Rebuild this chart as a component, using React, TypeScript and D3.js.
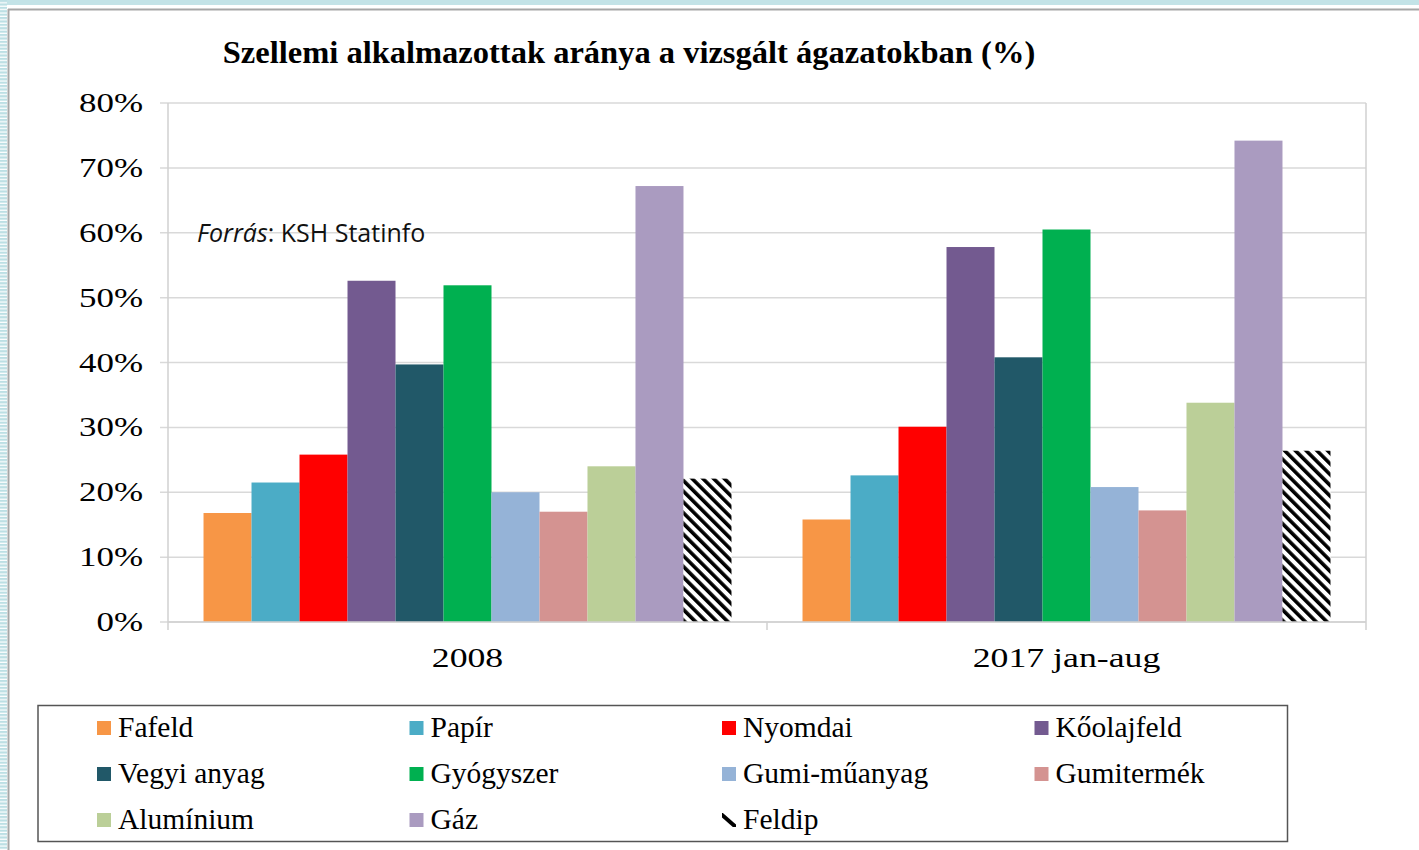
import React from "react";
import * as d3 from "d3";

const years = ["2008", "2017 jan-aug"];
const sectors = [
  "Fafeld",
  "Papír",
  "Nyomdai",
  "Kőolajfeld",
  "Vegyi anyag",
  "Gyógyszer",
  "Gumi-műanyag",
  "Gumitermék",
  "Alumínium",
  "Gáz",
  "Feldip",
];
const colors = [
  "#F79646",
  "#4BACC6",
  "#FF0000",
  "#735A90",
  "#215868",
  "#00B050",
  "#95B3D7",
  "#D49391",
  "#BBCF98",
  "#AA9BC0",
  "url(#hatch)",
];
const values2008 = [16.8, 21.5, 25.8, 52.6, 39.7, 51.9, 20.0, 17.0, 24.0, 67.2, 22.1];
const values2017 = [15.8, 22.6, 30.1, 57.8, 40.8, 60.5, 20.8, 17.2, 33.8, 74.2, 26.4];
const yTicks = [0, 10, 20, 30, 40, 50, 60, 70, 80];

const serif = "'Liberation Serif', 'Times New Roman', serif";

const App: React.FC = () => {
  const width = 1419;
  const height = 850;
  const left = 168;
  const right = 1366;
  const top = 103;
  const bottom = 622;

  const y = d3.scaleLinear().domain([0, 80]).range([bottom, top]);
  const x0 = d3.scaleBand<string>().domain(years).range([left, right]).paddingInner(0);
  const x1 = d3
    .scaleBand<string>()
    .domain(sectors)
    .range([0, x0.bandwidth()])
    .paddingInner(0)
    .paddingOuter(0.74);

  const series = [values2008, values2017];

  // legend layout
  const legendCols = 4;
  const legendX = (i: number) => 97 + (i % legendCols) * 312.5;
  const legendY = (i: number) => 721 + Math.floor(i / legendCols) * 46;

  return (
    <svg
      width={width}
      height={height}
      style={{ position: "absolute", left: 0, top: 0, background: "#fff" }}
    >
      <defs>
        <pattern
          id="hatch"
          patternUnits="userSpaceOnUse"
          width={7.6}
          height={7.6}
          patternTransform="rotate(-45)"
        >
          <rect width={7.6} height={7.6} fill="#fff" />
          <rect width={3.6} height={7.6} fill="#000" />
        </pattern>
        <pattern id="stripes" patternUnits="userSpaceOnUse" width={8} height={3.4}>
          <rect width={8} height={3.4} fill="#fff" />
          <rect width={8} height={2.2} fill="#BCDFE4" />
        </pattern>
      </defs>

      {/* page frame */}
      <rect x={0} y={0} width={width} height={5} fill="#C3E3E7" />
      <rect x={0} y={0} width={7} height={height} fill="url(#stripes)" />
      <line x1={8} x2={width} y1={9.5} y2={9.5} stroke="#A6A6A6" strokeWidth={2} />
      <line x1={8.5} x2={8.5} y1={9} y2={height} stroke="#A6A6A6" strokeWidth={2} />

      {/* title */}
      <text
        x={629}
        y={63}
        textAnchor="middle"
        fontFamily={serif}
        fontWeight="bold"
        fontSize={32.5}
        fill="#000"
      >
        Szellemi alkalmazottak aránya a vizsgált ágazatokban (%)
      </text>

      {/* grid + y axis */}
      {yTicks.map((t) => (
        <g key={t}>
          <line x1={left - 8} x2={right} y1={y(t)} y2={y(t)} stroke="#D9D9D9" strokeWidth={1.5} />
          <text
            transform={`translate(143, ${y(t) + 9}) scale(1.27, 1)`}
            textAnchor="end"
            fontFamily={serif}
            fontSize={27.5}
            fill="#000"
          >
            {t}%
          </text>
        </g>
      ))}
      <line x1={left} x2={left} y1={top} y2={bottom} stroke="#D0D0D0" strokeWidth={1.5} />
      <line x1={right} x2={right} y1={top} y2={bottom + 8} stroke="#D0D0D0" strokeWidth={1.5} />
      {years.map((yr) => (
        <line
          key={yr}
          x1={x0(yr)!}
          x2={x0(yr)!}
          y1={bottom}
          y2={bottom + 8}
          stroke="#D0D0D0"
          strokeWidth={1.5}
        />
      ))}

      {/* bars */}
      {years.map((yr, gi) => (
        <g key={yr} transform={`translate(${x0(yr)}, 0)`}>
          {sectors.map((s, si) => (
            <rect
              key={s}
              x={x1(s)!}
              y={y(series[gi][si])}
              width={x1.bandwidth()}
              height={y(0) - y(series[gi][si])}
              fill={colors[si]}
            />
          ))}
        </g>
      ))}
      <line x1={left} x2={right} y1={bottom} y2={bottom} stroke="#D0D0D0" strokeWidth={1.5} />

      {/* category labels */}
      {years.map((yr) => (
        <text
          key={yr}
          transform={`translate(${x0(yr)! + x0.bandwidth() / 2}, 667) scale(1.3, 1)`}
          textAnchor="middle"
          fontFamily={serif}
          fontSize={27.5}
          fill="#000"
        >
          {yr}
        </text>
      ))}

      {/* source note */}
      <text x={197} y={242} fontFamily="'Open Sans', 'Noto Sans', sans-serif" fontSize={25} fill="#111">
        <tspan fontStyle="italic">Forrás</tspan>: KSH Statinfo
      </text>

      {/* legend */}
      <rect x={38} y={705.5} width={1249.5} height={136} fill="#fff" stroke="#555" strokeWidth={1.5} />
      {sectors.map((s, i) => (
        <g key={s}>
          {i === sectors.length - 1 ? (
            <g>
              <clipPath id="legclip">
                <rect x={legendX(i)} y={legendY(i)} width={14} height={14} />
              </clipPath>
              <line
                x1={legendX(i) - 1}
                y1={legendY(i) + 1}
                x2={legendX(i) + 15}
                y2={legendY(i) + 15}
                stroke="#000"
                strokeWidth={4}
                clipPath="url(#legclip)"
              />
            </g>
          ) : (
            <rect x={legendX(i)} y={legendY(i)} width={14} height={14} fill={colors[i]} />
          )}
          <text
            x={legendX(i) + 21}
            y={legendY(i) + 16}
            fontFamily={serif}
            fontSize={29.5}
            fill="#000"
          >
            {s}
          </text>
        </g>
      ))}
    </svg>
  );
};

export default App;
